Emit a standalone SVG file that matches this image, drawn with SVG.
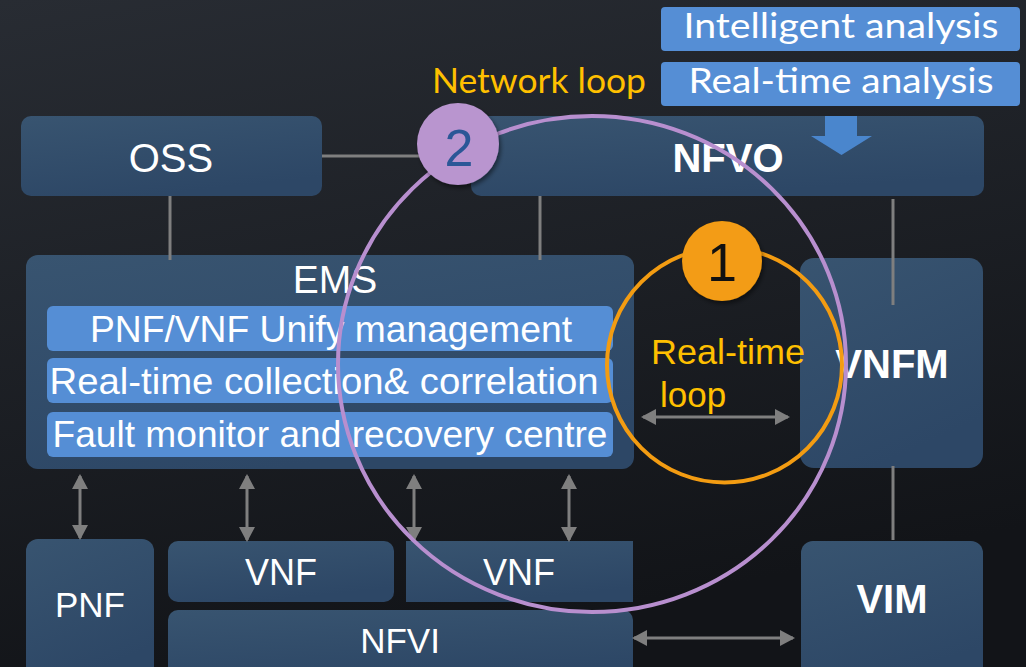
<svg xmlns="http://www.w3.org/2000/svg" width="1026" height="667" viewBox="0 0 1026 667">
  <defs>
    <linearGradient id="bg" x1="0" y1="0" x2="0.3" y2="1">
      <stop offset="0" stop-color="#282c33"/>
      <stop offset="1" stop-color="#121418"/>
    </linearGradient>
    <linearGradient id="nodeFill" x1="0" y1="0" x2="0.4" y2="1">
      <stop offset="0" stop-color="#385470"/>
      <stop offset="1" stop-color="#2d4766"/>
    </linearGradient>
    <marker id="ah" viewBox="0 0 15 16" markerWidth="15" markerHeight="16" refX="13" refY="8" orient="auto-start-reverse" markerUnits="userSpaceOnUse">
      <path d="M0,0 L15,8 L0,16 z" fill="#7f7f7f"/>
    </marker>
    <filter id="shadow" x="-30%" y="-30%" width="160%" height="160%">
      <feDropShadow dx="2" dy="3" stdDeviation="2" flood-color="#000" flood-opacity="0.45"/>
    </filter>
  </defs>
  <style>
    .node { fill: url(#nodeFill); }
    .bar { fill: #558ed5; }
    .t { font-family: "Liberation Sans", Arial, sans-serif; fill: #ffffff; text-anchor: middle; }
    .b { font-weight: bold; }
    .c { font-family: Lato, "Liberation Sans", sans-serif; }
    .line { stroke: #7f7f7f; stroke-width: 3; fill: none; }
    .arrow { stroke: #7f7f7f; stroke-width: 3; fill: none; marker-start: url(#ah); marker-end: url(#ah); }
    .orange { fill: #ffc000; }
  </style>
  <rect x="0" y="0" width="1026" height="667" fill="url(#bg)"/>

  <g id="intelligent-analysis">
    <rect class="bar" x="661" y="7" width="359" height="44" rx="4"/>
    <text class="t c" x="841" y="38" font-size="35" textLength="315" lengthAdjust="spacingAndGlyphs">Intelligent analysis</text>
  </g>
  <g id="realtime-analysis">
    <rect class="bar" x="661" y="62" width="359" height="44" rx="4"/>
    <text class="t c" x="841" y="93" font-size="35" textLength="305" lengthAdjust="spacingAndGlyphs">Real-time analysis</text>
  </g>
  <g id="network-loop-label">
    <text class="c orange" x="432" y="93" font-size="35" textLength="214" lengthAdjust="spacingAndGlyphs">Network loop</text>
  </g>

  <g id="oss">
    <rect class="node" x="21" y="116" width="301" height="80" rx="10"/>
    <text class="t" x="171" y="172" font-size="40">OSS</text>
  </g>

  <g id="nfvo">
    <rect class="node" x="471" y="116" width="513" height="80" rx="10"/>
    <polygon points="825,116 857,116 857,136 872,136 841.5,155 811,136 825,136" fill="#4a86cd"/>
    <text class="t b" x="728" y="172" font-size="40">NFVO</text>
  </g>

  <g id="ems">
    <rect class="node" x="26" y="255" width="608" height="214" rx="12"/>
    <text class="t" x="335" y="293" font-size="39">EMS</text>
    <rect class="bar" x="47" y="306" width="566" height="45" rx="6"/>
    <text class="t" x="331" y="342" font-size="36" textLength="482" lengthAdjust="spacingAndGlyphs">PNF/VNF Unify management</text>
    <rect class="bar" x="47" y="358" width="566" height="45" rx="6"/>
    <text class="t" x="324" y="394" font-size="37" textLength="549" lengthAdjust="spacingAndGlyphs">Real-time collection&amp; correlation</text>
    <rect class="bar" x="47" y="412" width="566" height="45" rx="6"/>
    <text class="t" x="330" y="447" font-size="37" textLength="555" lengthAdjust="spacingAndGlyphs">Fault monitor and recovery centre</text>
  </g>

  <g id="vnfm">
    <rect class="node" x="800" y="258" width="183" height="210" rx="14"/>
    <text class="t b" x="892" y="378" font-size="40">VNFM</text>
  </g>

  <g id="vim">
    <rect class="node" x="801" y="541" width="182" height="140" rx="12"/>
    <text class="t b" x="892" y="613" font-size="40">VIM</text>
  </g>

  <g id="pnf">
    <rect class="node" x="26" y="539" width="128" height="140" rx="12"/>
    <text class="t" x="90" y="617" font-size="35">PNF</text>
  </g>

  <g id="vnf1">
    <rect class="node" x="168" y="541" width="226" height="61" rx="10"/>
    <text class="t" x="281" y="585" font-size="36">VNF</text>
  </g>

  <g id="vnf2">
    <rect class="node" x="406" y="541" width="227" height="61"/>
    <text class="t" x="519" y="585" font-size="36">VNF</text>
  </g>

  <g id="nfvi">
    <rect class="node" x="168" y="610" width="465" height="70" rx="10"/>
    <text class="t" x="400" y="653" font-size="35">NFVI</text>
  </g>

  <g id="connectors">
    <line class="line" x1="322" y1="156" x2="430" y2="156"/>
    <line class="line" x1="170" y1="196" x2="170" y2="260"/>
    <line class="line" x1="540" y1="196" x2="540" y2="260"/>
    <line class="line" x1="893" y1="199" x2="893" y2="305"/>
    <line class="line" x1="893" y1="466" x2="893" y2="540"/>
    <line class="arrow" x1="80" y1="476" x2="80" y2="538"/>
    <line class="arrow" x1="247" y1="476" x2="247" y2="540"/>
    <line class="arrow" x1="414" y1="476" x2="414" y2="540"/>
    <line class="arrow" x1="569" y1="476" x2="569" y2="540"/>
    <line class="arrow" x1="643" y1="417" x2="788" y2="417"/>
    <line class="arrow" x1="634" y1="638" x2="793" y2="638"/>
  </g>

  <g id="realtime-loop">
    <circle cx="724.5" cy="365" r="117.5" fill="none" stroke="#f39c12" stroke-width="4"/>
    <text class="orange" x="651" y="364" font-family="Liberation Sans, Arial, sans-serif" font-size="35" textLength="154" lengthAdjust="spacingAndGlyphs">Real-time</text>
    <text class="orange" x="660" y="407" font-family="Liberation Sans, Arial, sans-serif" font-size="35">loop</text>
  </g>

  <g id="network-loop">
    <ellipse cx="592" cy="364" rx="254" ry="248" fill="none" stroke="#b88fcf" stroke-width="4"/>
  </g>

  <g id="badge-1">
    <circle cx="722" cy="261" r="40" fill="#f39c12" filter="url(#shadow)"/>
    <text x="722" y="281" font-family="Liberation Sans, Arial, sans-serif" font-size="54" fill="#111111" text-anchor="middle">1</text>
  </g>

  <g id="badge-2">
    <circle cx="458" cy="144" r="41" fill="#b995cf" filter="url(#shadow)"/>
    <text x="459" y="166" font-family="Liberation Sans, Arial, sans-serif" font-size="52" fill="#2b5797" text-anchor="middle">2</text>
  </g>
</svg>
